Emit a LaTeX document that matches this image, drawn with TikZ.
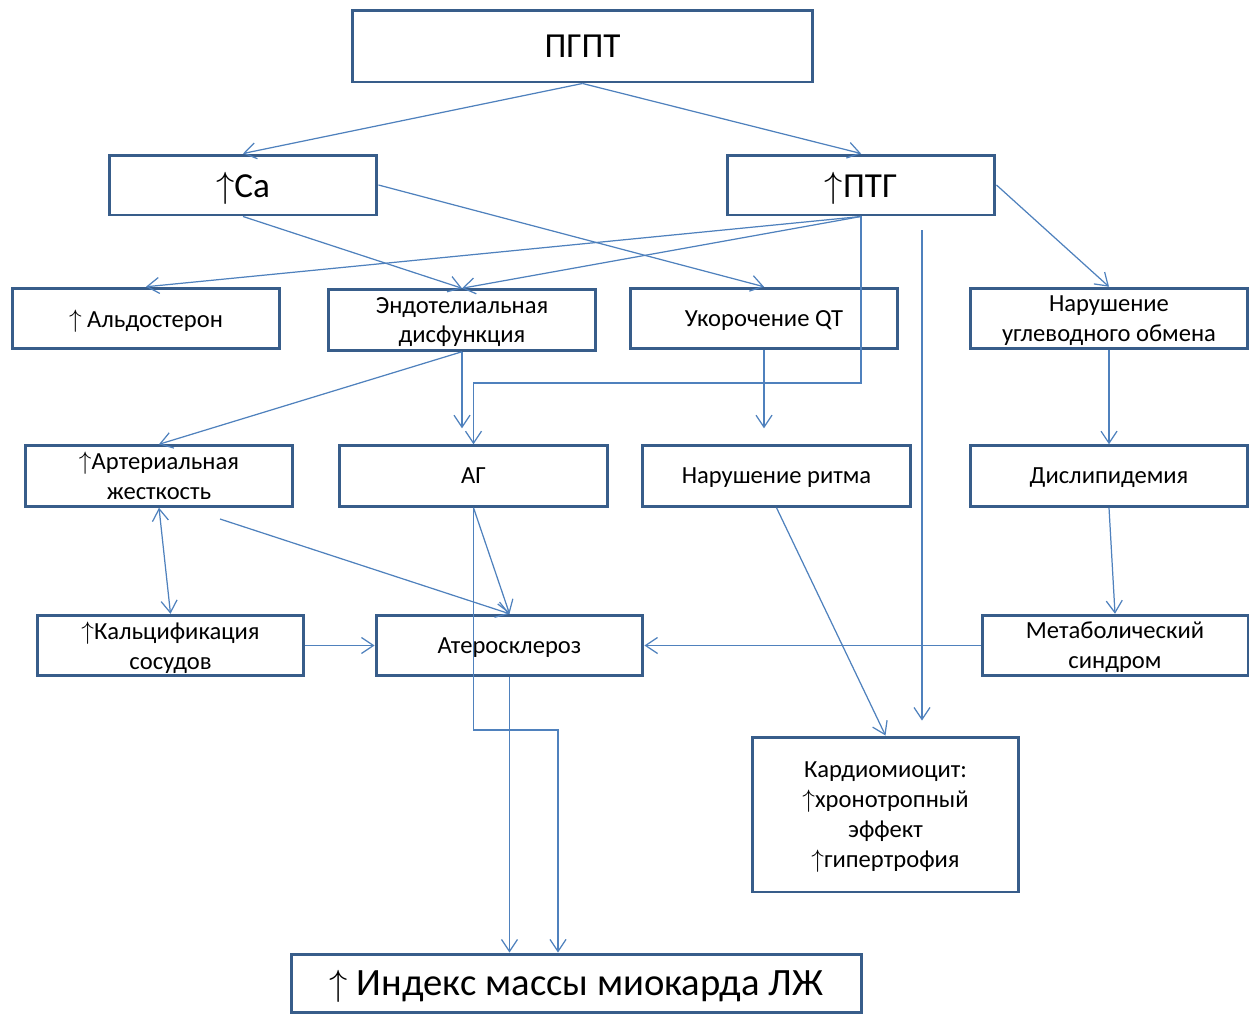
\documentclass[tikz,border=0pt]{standalone}
\usepackage{fontspec}
\setmainfont{Carlito}
\usetikzlibrary{arrows.meta}

\definecolor{boxblue}{RGB}{56,93,138}
\definecolor{lineblue}{RGB}{79,129,189}

\newcommand{\up}{$\uparrow$}

\begin{document}
\begin{tikzpicture}[x=0.02cm,y=-0.02cm,
  box/.style={draw=boxblue,line width=1.7pt,align=center,inner sep=0pt,text depth=0pt,
    minimum width=5.36cm,minimum height=1.21cm,font=\fontsize{14}{17}\selectfont},
  bigbox/.style={box,font=\fontsize{20}{24}\selectfont},
  conn/.style={draw=lineblue,line width=0.7pt,->},
  >={Straight Barb[length=2.4mm,width=3.2mm]}]

\useasboundingbox (0,0) rectangle (1250,1014);

% boxes
\node[bigbox,minimum width=9.22cm,minimum height=1.44cm] (pgpt) at (582.5,46) {ПГПТ};
\node[bigbox,minimum height=1.2cm] (ca) at (243,185) {\up Ca};
\node[bigbox,minimum height=1.2cm] (ptg) at (861,185) {\up ПТГ};

\node[box] (aldo) at (146,318.5) {\up\ Альдостерон};
\node[box] (endo) at (462,320) {Эндотелиальная\\дисфункция};
\node[box] (qt) at (764,318.5) {Укорочение QT};
\node[box,minimum width=5.56cm] (uglev) at (1109,318.5) {Нарушение\\углеводного обмена};

\node[box] (art) at (159,476) {\up Артериальная\\жесткость};
\node[box] (ag) at (473.5,476) {АГ};
\node[box] (ritm) at (776.5,476) {Нарушение ритма};
\node[box,minimum width=5.56cm] (disl) at (1109,476) {Дислипидемия};

\node[box,minimum width=5.34cm] (calc) at (170.5,645.5) {\up Кальцификация\\сосудов};
\node[box,minimum width=5.34cm] (ather) at (509.5,645.5) {Атеросклероз};
\node[box,minimum width=5.32cm] (meta) at (1115,645.5) {Метаболический\\синдром};

\node[box,minimum width=5.34cm,minimum height=3.1cm] (kardio) at (885.5,814.5)
  {Кардиомиоцит:\\\up хронотропный\\эффект\\\up гипертрофия};

\node[box,minimum width=11.42cm,minimum height=1.16cm,font=\fontsize{22}{26}\selectfont] (ind) at (576.5,983)
  {\up\ Индекс массы миокарда ЛЖ};

% connectors
\draw[conn] (pgpt.south) -- (ca.north);
\draw[conn] (pgpt.south) -- (ptg.north);
\draw[conn] (ca.east) -- (qt.north);
\draw[conn] (ca.south) -- (endo.north);
\draw[conn] (ptg.south) -- (aldo.north);
\draw[conn] (ptg.south) -- (endo.north);
\draw[conn] (ptg.south) -- (ptg.south |- 0,383) -| (ag.north);
\draw[conn] (ptg.east) -- (uglev.north);

\coordinate (ptgline) at (922,230);
\draw[conn,shorten >=3mm] (ptgline) -- (ptgline |- kardio.north);

\draw[conn,shorten >=3.2mm] (endo.south) -- (endo.south |- ag.north);
\draw[conn] (endo.south) -- (art.north);
\draw[conn,shorten >=3.2mm] (qt.south) -- (qt.south |- ritm.north);
\draw[conn] (uglev.south) -- (disl.north);
\draw[conn] (disl.south) -- (meta.north);

\draw[conn,<->] (art.south) -- (calc.north);
\coordinate (artline) at (220,519);
\draw[conn] (artline) -- (ather.north);
\draw[conn] (ag.south) -- (ather.north);
\draw[conn] (calc.east) -- (ather.west);
\draw[conn] (meta.west) -- (ather.east);

\coordinate (bend) at (558,730);
\draw[conn] (ag.south) |- (bend) -- (bend |- ind.north);
\draw[conn] (ather.south) -- (ather.south |- ind.north);
\draw[conn] (ritm.south) -- (kardio.north);

\end{tikzpicture}
\end{document}
